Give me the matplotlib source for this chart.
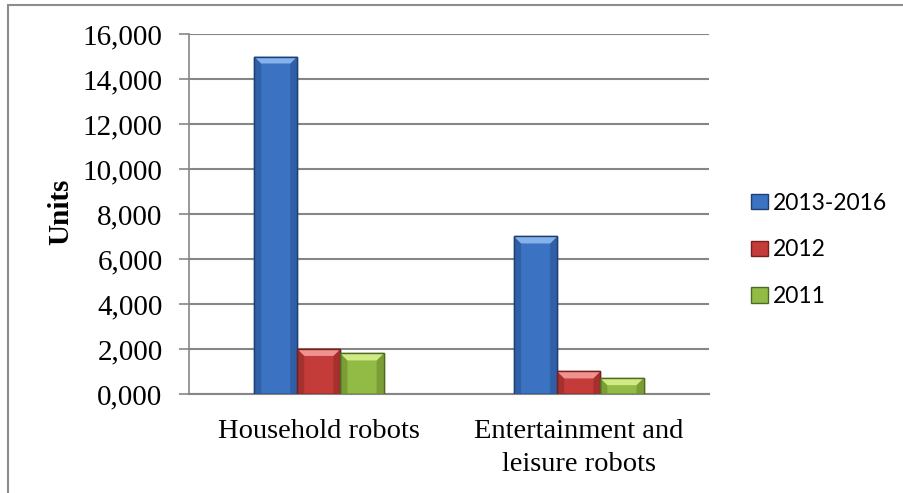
import matplotlib.pyplot as plt
import numpy as np
from matplotlib.patches import Rectangle, Polygon

categories = ['Household robots', 'Entertainment and\nleisure robots']
series = ['2013-2016', '2012', '2011']
values_2013_2016 = [15000, 7000]
values_2012 = [2000, 1000]
values_2011 = [1800, 700]
yticks = [0, 2000, 4000, 6000, 8000, 10000, 12000, 14000, 16000]
ytick_labels = ['0,000', '2,000', '4,000', '6,000', '8,000',
                '10,000', '12,000', '14,000', '16,000']

colours = ['#3b72c2', '#c43c39', '#92bb45']
edges = ['#1f3f73', '#7a1f1d', '#4f6b1f']
tops = ['#86b2ec', '#f09290', '#d0ea86']
sides = ['#2f5fa6', '#a5302d', '#7a9e35']

fig = plt.figure(figsize=(9.04, 4.93), dpi=100)
ax = fig.add_axes([0.209, 0.201, 0.575, 0.730])

# outer frame of the chart area
fig.patches.append(Rectangle((8 / 904, -0.02), 1.1, 1 - 4.5 / 493 + 0.02,
                             transform=fig.transFigure, fill=False,
                             edgecolor='#8c8c8c', linewidth=1.5))

x = np.arange(len(categories))
width = 0.166
all_vals = [values_2013_2016, values_2012, values_2011]
bar_groups = []
for i, vals in enumerate(all_vals):
    bars = ax.bar(x + (i - 1) * width, vals, width, color=colours[i],
                  edgecolor=edges[i], linewidth=1.0, label=series[i], zorder=3)
    bar_groups.append(bars)

ax.set_xlim(-0.5, 1.5)
ax.set_ylim(0, 16000)

# bevel shading on each bar (a few pixels wide)
to_disp = ax.transData
to_data = ax.transData.inverted()
b = 7
for i, bars in enumerate(bar_groups):
    for r in bars:
        (x0, y0) = to_disp.transform((r.get_x(), 0))
        (x1, y1) = to_disp.transform((r.get_x() + r.get_width(), r.get_height()))
        top = [(x0, y1), (x1, y1), (x1 - b, y1 - b), (x0 + b, y1 - b)]
        left = [(x0, y1), (x0 + b, y1 - b), (x0 + b, y0), (x0, y0)]
        right = [(x1, y1), (x1 - b, y1 - b), (x1 - b, y0), (x1, y0)]
        for pts, c in [(left, sides[i]), (right, sides[i]), (top, tops[i])]:
            ax.add_patch(Polygon(to_data.transform(pts), closed=True,
                                 facecolor=c, edgecolor='none', zorder=4))
        ax.add_patch(Rectangle((r.get_x(), 0), r.get_width(), r.get_height(),
                               fill=False, edgecolor=edges[i], linewidth=1.0,
                               zorder=5))

ax.set_yticks(yticks)
ax.set_yticklabels(ytick_labels, family='Liberation Serif', fontsize=21)
ax.set_xticks(x)
ax.set_xticklabels(categories, family='Liberation Serif', fontsize=20.5,
                   linespacing=1.42)
ax.tick_params(axis='x', length=0, pad=18)
ax.tick_params(axis='y', length=7, width=1.2, color='#868686', pad=12)

ax.yaxis.grid(True, color='#868686', linewidth=1.5, zorder=0)
ax.set_axisbelow(True)
for s in ['top', 'right']:
    ax.spines[s].set_visible(False)
ax.spines['left'].set_color('#868686')
ax.spines['left'].set_linewidth(1.2)
ax.spines['bottom'].set_color('#868686')
ax.spines['bottom'].set_linewidth(1.5)

fig.text(61 / 904, 1 - 212 / 493, 'Units', family='Liberation Serif',
         fontsize=21, weight='bold', rotation=90, ha='center', va='center')

leg = ax.legend(loc='center left', bbox_to_anchor=(1.081, 0.400),
                frameon=False, prop={'family': 'Lato', 'size': 16.5},
                handlelength=0.74, handleheight=0.65, handletextpad=0.22,
                labelspacing=1.12, borderpad=0, borderaxespad=0)

fig.savefig('out.png', dpi=100)
